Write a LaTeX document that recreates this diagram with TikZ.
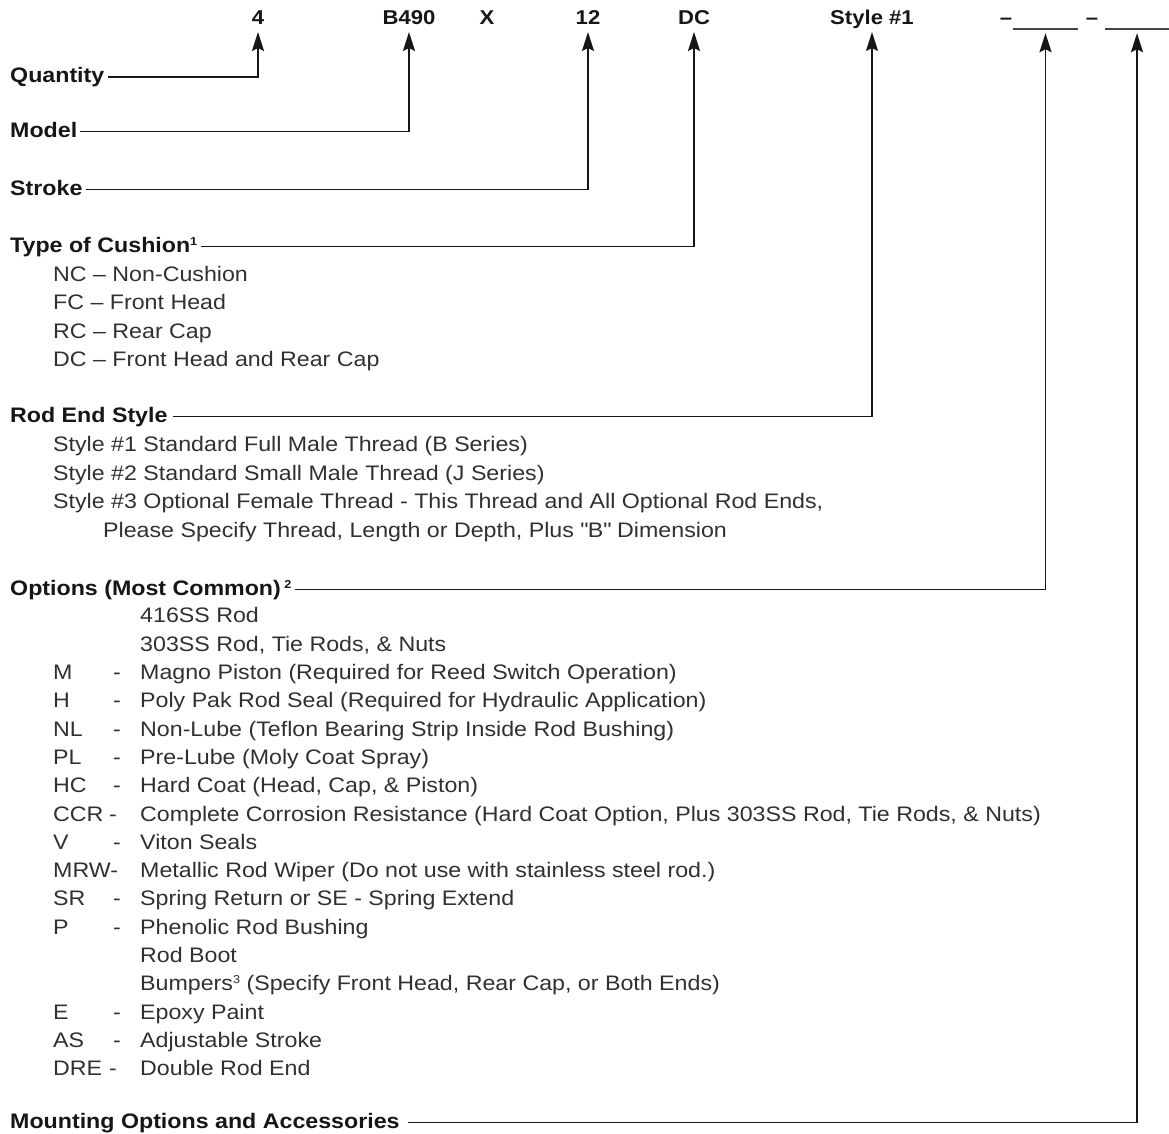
\documentclass[tikz,border=0pt]{standalone}
\usepackage{fontspec}
\setmainfont{Liberation Sans}[FakeStretch=1.105]
\usetikzlibrary{arrows.meta}
\definecolor{ink}{HTML}{161616}
\definecolor{txt}{HTML}{303030}
\newcommand{\bodyfnt}{\fontsize{21}{24}\selectfont}
\newcommand{\headfnt}{\fontsize{21}{24}\selectfont\bfseries}
\newcommand{\topfnt}{\fontsize{20}{24}\selectfont\bfseries}
\newcommand{\supfnt}[1]{\raisebox{7pt}{\fontsize{11.5}{12}\selectfont #1}}
\tikzset{
  head/.style={font=\headfnt, text=ink, anchor=base west, inner sep=0pt},
  topl/.style={font=\topfnt, text=ink, anchor=base, inner sep=0pt},
  body/.style={font=\bodyfnt, text=txt, anchor=base west, inner sep=0pt},
  conn/.style={draw=ink, line width=1.9pt, -{Stealth[length=19pt,width=12pt,inset=3pt]}},
  blankline/.style={draw=ink!80, line width=1.1pt},
  blank/.style={inner sep=0pt, minimum height=0pt}
}
\begin{document}
\begin{tikzpicture}[x=1pt,y=-1pt]
\useasboundingbox (0,0) rectangle (1169,1134);
% top code row
\node[topl] (t4) at (258,25) {4};
\node[topl] (tmodel) at (409,25) {B490};
\node[topl] (tx) at (487,25) {X};
\node[topl] (tstroke) at (588,25) {12};
\node[topl] (tcush) at (694,25) {DC};
\node[topl] (tstyle) at (872,25) {Style \#1};
\node[topl] (d1) at (1006,25) {–};
\node[blank, minimum width=65pt] (b1) at (1045.5,29) {};
\node[topl] (d2) at (1092,25) {–};
\node[blank, minimum width=64pt] (b2) at (1137,29) {};
\draw[blankline] (b1.west) -- (b1.east);
\draw[blankline] (b2.west) -- (b2.east);

% headings
\node[head] (hq) at (10,83) {Quantity};
\node[head] (hm) at (10,137.5) {Model};
\node[head] (hs) at (10,195.5) {Stroke};
\node[head] (hc) at (10,252.5) {Type of Cushion\supfnt{1}};
\node[head] (hr) at (10,422.5) {Rod End Style};
\node[head] (ho) at (10,595.5) {Options (Most Common)\,\supfnt{2}};
\node[head] (ha) at (10,1128.5) {Mounting Options and Accessories};

% connectors
\draw[conn] ([xshift=3pt,yshift=6pt]hq.base east) -| ([yshift=-7pt]t4.base);
\draw[conn] ([xshift=3pt,yshift=6pt]hm.base east) -| ([yshift=-7pt]tmodel.base);
\draw[conn] ([xshift=3pt,yshift=6pt]hs.base east) -| ([yshift=-7pt]tstroke.base);
\draw[conn] ([xshift=3pt,yshift=6pt]hc.base east) -| ([yshift=-7pt]tcush.base);
\draw[conn] ([xshift=5pt,yshift=6pt]hr.base east) -| ([yshift=-7pt]tstyle.base);
\draw[conn] ([xshift=3pt,yshift=6pt]ho.base east) -| ([yshift=-4pt]b1.south);
\draw[conn] ([xshift=8pt,yshift=6pt]ha.base east) -| ([yshift=-4pt]b2.south);

% cushion items
\node[body] (c1) at (53,281) {NC – Non-Cushion};
\node[body] (c2) at (53,309.5) {FC – Front Head};
\node[body] (c3) at (53,338) {RC – Rear Cap};
\node[body] (c4) at (53,366.5) {DC – Front Head and Rear Cap};

% rod end items
\node[body] (r1) at (53,451) {Style \#1 Standard Full Male Thread (B Series)};
\node[body] (r2) at (53,480) {Style \#2 Standard Small Male Thread (J Series)};
\node[body] (r3) at (53,508.5) {Style \#3 Optional Female Thread - This Thread and All Optional Rod Ends,};
\node[body] (r4) at (103,537) {Please Specify Thread, Length or Depth, Plus \textquotedbl B\textquotedbl\ Dimension};

% options list: codes
\node[body] (kM) at (53,679.5) {M};
\node[body] (kH) at (53,707.8) {H};
\node[body] (kNL) at (53,736.1) {NL};
\node[body] (kPL) at (53,764.4) {PL};
\node[body] (kHC) at (53,792.7) {HC};
\node[body] (kCCR) at (53,821) {CCR};
\node[body] (kV) at (53,849.3) {V};
\node[body] (kMRW) at (53,877.6) {MRW-};
\node[body] (kSR) at (53,905.9) {SR};
\node[body] (kP) at (53,934.2) {P};
\node[body] (kE) at (53,1019.1) {E};
\node[body] (kAS) at (53,1047.4) {AS};
\node[body] (kDRE) at (53,1075.7) {DRE};
% dashes
\node[body] (sM) at (113,679.5) {-};
\node[body] (sH) at (113,707.8) {-};
\node[body] (sNL) at (113,736.1) {-};
\node[body] (sPL) at (113,764.4) {-};
\node[body] (sHC) at (113,792.7) {-};
\node[body] (sCCR) at (109,821) {-};
\node[body] (sV) at (113,849.3) {-};
\node[body] (sSR) at (113,905.9) {-};
\node[body] (sP) at (113,934.2) {-};
\node[body] (sE) at (113,1019.1) {-};
\node[body] (sAS) at (113,1047.4) {-};
\node[body] (sDRE) at (109,1075.7) {-};
% descriptions
\node[body] (o1) at (140,622.9) {416SS Rod};
\node[body] (o2) at (140,651.2) {303SS Rod, Tie Rods, \& Nuts};
\node[body] (o3) at (140,679.5) {Magno Piston (Required for Reed Switch Operation)};
\node[body] (o4) at (140,707.8) {Poly Pak Rod Seal (Required for Hydraulic Application)};
\node[body] (o5) at (140,736.1) {Non-Lube (Teflon Bearing Strip Inside Rod Bushing)};
\node[body] (o6) at (140,764.4) {Pre-Lube (Moly Coat Spray)};
\node[body] (o7) at (140,792.7) {Hard Coat (Head, Cap, \& Piston)};
\node[body] (o8) at (140,821) {Complete Corrosion Resistance (Hard Coat Option, Plus 303SS Rod, Tie Rods, \& Nuts)};
\node[body] (o9) at (140,849.3) {Viton Seals};
\node[body] (o10) at (140,877.6) {Metallic Rod Wiper (Do not use with stainless steel rod.)};
\node[body] (o11) at (140,905.9) {Spring Return or SE - Spring Extend};
\node[body] (o12) at (140,934.2) {Phenolic Rod Bushing};
\node[body] (o13) at (140,962.5) {Rod Boot};
\node[body] (o14) at (140,990.8) {Bumpers\supfnt{3} (Specify Front Head, Rear Cap, or Both Ends)};
\node[body] (o15) at (140,1019.1) {Epoxy Paint};
\node[body] (o16) at (140,1047.4) {Adjustable Stroke};
\node[body] (o17) at (140,1075.7) {Double Rod End};
\end{tikzpicture}
\end{document}
